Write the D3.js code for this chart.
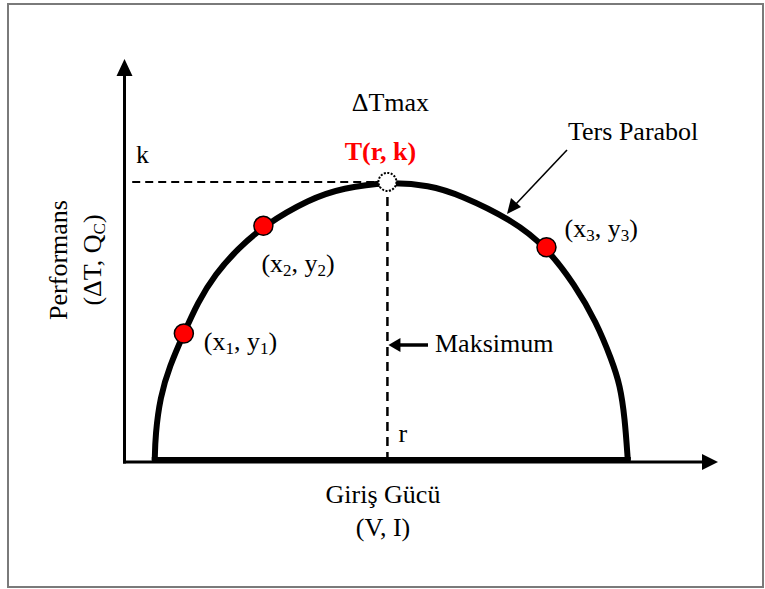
<!DOCTYPE html>
<html>
<head>
<meta charset="utf-8">
<script src="https://cdn.jsdelivr.net/npm/d3@7"></script>
<style>
  body { margin: 0; background: #fff; }
  svg text { font-family: "Times New Roman", "Liberation Serif", serif; }
</style>
</head>
<body>
<div id="chart"></div>
<script>
// curve, in axis units (0-100 on both axes)
const curveX = [5.1, 5.2, 6.0, 7.6, 10.0, 12.3, 15.3, 19.1, 23.4, 31.2, 36.8, 44.3, 51.4, 56.5, 65.4, 71.1, 75.9, 79.5, 82.1, 83.5, 84.3, 84.8];
const curveY = [0.5, 6.7, 16.1, 23.8, 31.9, 39.5, 46.7, 52.9, 58.6, 65.3, 68.0, 69.5, 68.7, 66.3, 60.0, 53.3, 43.9, 34.7, 25.3, 19.1, 10.9, 0.5];

const pointX = [10.0, 23.4, 71.1];
const pointY = [31.9, 58.6, 53.3];
const pointNames = [["x", "1", "y", "1"], ["x", "2", "y", "2"], ["x", "3", "y", "3"]];

const peak = { x: 44.3, y: 69.5 };

const xTitle = ["Giriş Gücü", "(V, I)"];
const yTitle = ["Performans", "(ΔT, Q", "C", ")"];

const width = 765, height = 589;
const fs = 26;
const serif = "'Liberation Serif', 'Times New Roman', serif";

const svg = d3.select("#chart").append("svg")
  .attr("width", width)
  .attr("height", height)
  .attr("font-family", serif);

// frame
svg.append("rect")
  .attr("x", 8).attr("y", 4)
  .attr("width", 755).attr("height", 583)
  .attr("fill", "none")
  .attr("stroke", "#7a7a7a")
  .attr("stroke-width", 2);

const x = d3.scaleLinear().domain([0, 100]).range([124.5, 718]);
const y = d3.scaleLinear().domain([0, 100]).range([462, 59]);

// axes (plain lines + arrow heads, no ticks)
svg.append("line")
  .attr("x1", x(0)).attr("x2", x(0))
  .attr("y1", y(0) + 1.5).attr("y2", y(100) + 14)
  .attr("stroke", "black").attr("stroke-width", 3);
svg.append("path")
  .attr("d", `M${x(0)},${y(100)} L${x(0) - 8},${y(100) + 17} L${x(0) + 8},${y(100) + 17} Z`)
  .attr("fill", "black");

svg.append("line")
  .attr("x1", x(0) - 1.5).attr("x2", x(100) - 14)
  .attr("y1", y(0)).attr("y2", y(0))
  .attr("stroke", "black").attr("stroke-width", 3);
svg.append("path")
  .attr("d", `M${x(100)},${y(0)} L${x(100) - 16},${y(0) - 8} L${x(100) - 16},${y(0) + 8} Z`)
  .attr("fill", "black");

// dashed guides to the top
svg.append("line")
  .attr("x1", x(1.3)).attr("x2", x(peak.x))
  .attr("y1", y(peak.y)).attr("y2", y(peak.y))
  .attr("stroke", "black").attr("stroke-width", 2)
  .attr("stroke-dasharray", "8,5");
svg.append("line")
  .attr("x1", x(peak.x)).attr("x2", x(peak.x))
  .attr("y1", y(peak.y)).attr("y2", y(0))
  .attr("stroke", "black").attr("stroke-width", 2.5)
  .attr("stroke-dasharray", "9,6");

// inverted parabola
const curveData = curveX.map((d, i) => [d, curveY[i]]);
const line = d3.line()
  .x((d) => x(d[0]))
  .y((d) => y(d[1]))
  .curve(d3.curveBasis);

svg.append("path")
  .attr("d", line(curveData))
  .attr("fill", "none")
  .attr("stroke", "black")
  .attr("stroke-width", 6);

svg.append("line")
  .attr("x1", x(curveX[0]) - 3).attr("x2", x(curveX[curveX.length - 1]) + 3)
  .attr("y1", y(0.5)).attr("y2", y(0.5))
  .attr("stroke", "black").attr("stroke-width", 6);

// top point T(r, k)
svg.append("circle")
  .attr("cx", x(peak.x)).attr("cy", y(peak.y))
  .attr("r", 9)
  .attr("fill", "white")
  .attr("stroke", "black")
  .attr("stroke-width", 2)
  .attr("stroke-dasharray", "2,1.5");

// red measured points
const pts = pointX.map((d, i) => ({ x: d, y: pointY[i], name: pointNames[i] }));
svg.selectAll(".pt")
  .data(pts)
  .join("circle")
  .attr("class", "pt")
  .attr("cx", (d) => x(d.x))
  .attr("cy", (d) => y(d.y))
  .attr("r", 9.5)
  .attr("fill", "#ff0000")
  .attr("stroke", "black")
  .attr("stroke-width", 1.5);

const labelOffset = [[20, 17], [-2, 46], [18, -10]];
pts.forEach((d, i) => {
  const t = svg.append("text")
    .attr("x", x(d.x) + labelOffset[i][0])
    .attr("y", y(d.y) + labelOffset[i][1])
    .attr("font-size", fs);
  t.append("tspan").text("(" + d.name[0]);
  t.append("tspan").text(d.name[1]).attr("font-size", 17).attr("dy", 4);
  t.append("tspan").text(", " + d.name[2]).attr("dy", -4);
  t.append("tspan").text(d.name[3]).attr("font-size", 17).attr("dy", 4);
  t.append("tspan").text(")").attr("dy", -4);
});

// text labels
svg.append("text").text("ΔTmax")
  .attr("x", x(44.3) + 3).attr("y", 111)
  .attr("text-anchor", "middle").attr("font-size", fs);

svg.append("text").text("T(r, k)")
  .attr("x", x(peak.x) - 7).attr("y", 160)
  .attr("text-anchor", "middle").attr("font-size", fs)
  .attr("font-weight", "bold").attr("fill", "#ff0000");

svg.append("text").text("k")
  .attr("x", 136).attr("y", 163).attr("font-size", fs);

svg.append("text").text("r")
  .attr("x", x(peak.x) + 11).attr("y", 442).attr("font-size", fs);

svg.append("text").text("Ters Parabol")
  .attr("x", 568).attr("y", 140).attr("font-size", fs);

// arrow to the curve
svg.append("line")
  .attr("x1", 567).attr("y1", 150)
  .attr("x2", 515).attr("y2", 205)
  .attr("stroke", "black").attr("stroke-width", 1.6);
svg.append("path")
  .attr("d", "M507,214 L511,198 L521,207 Z")
  .attr("fill", "black");

// Maksimum arrow
svg.append("line")
  .attr("x1", 428).attr("y1", 345)
  .attr("x2", 400).attr("y2", 345)
  .attr("stroke", "black").attr("stroke-width", 3.5);
svg.append("path")
  .attr("d", `M${x(peak.x) + 1},345 L${x(peak.x) + 13},338 L${x(peak.x) + 13},352 Z`)
  .attr("fill", "black");
svg.append("text").text("Maksimum")
  .attr("x", 435).attr("y", 352).attr("font-size", fs);

// axis titles
svg.append("text").text(xTitle[0])
  .attr("x", 383).attr("y", 503)
  .attr("text-anchor", "middle").attr("font-size", fs);
svg.append("text").text(xTitle[1])
  .attr("x", 383).attr("y", 536)
  .attr("text-anchor", "middle").attr("font-size", fs);

svg.append("text").text(yTitle[0])
  .attr("transform", "translate(67,260) rotate(-90)")
  .attr("text-anchor", "middle").attr("font-size", fs);
const yt = svg.append("text")
  .attr("transform", "translate(101,260) rotate(-90)")
  .attr("text-anchor", "middle").attr("font-size", fs);
yt.append("tspan").text(yTitle[1]);
yt.append("tspan").text(yTitle[2]).attr("font-size", 17).attr("dy", 4);
yt.append("tspan").text(yTitle[3]).attr("dy", -4);
</script>
</body>
</html>
